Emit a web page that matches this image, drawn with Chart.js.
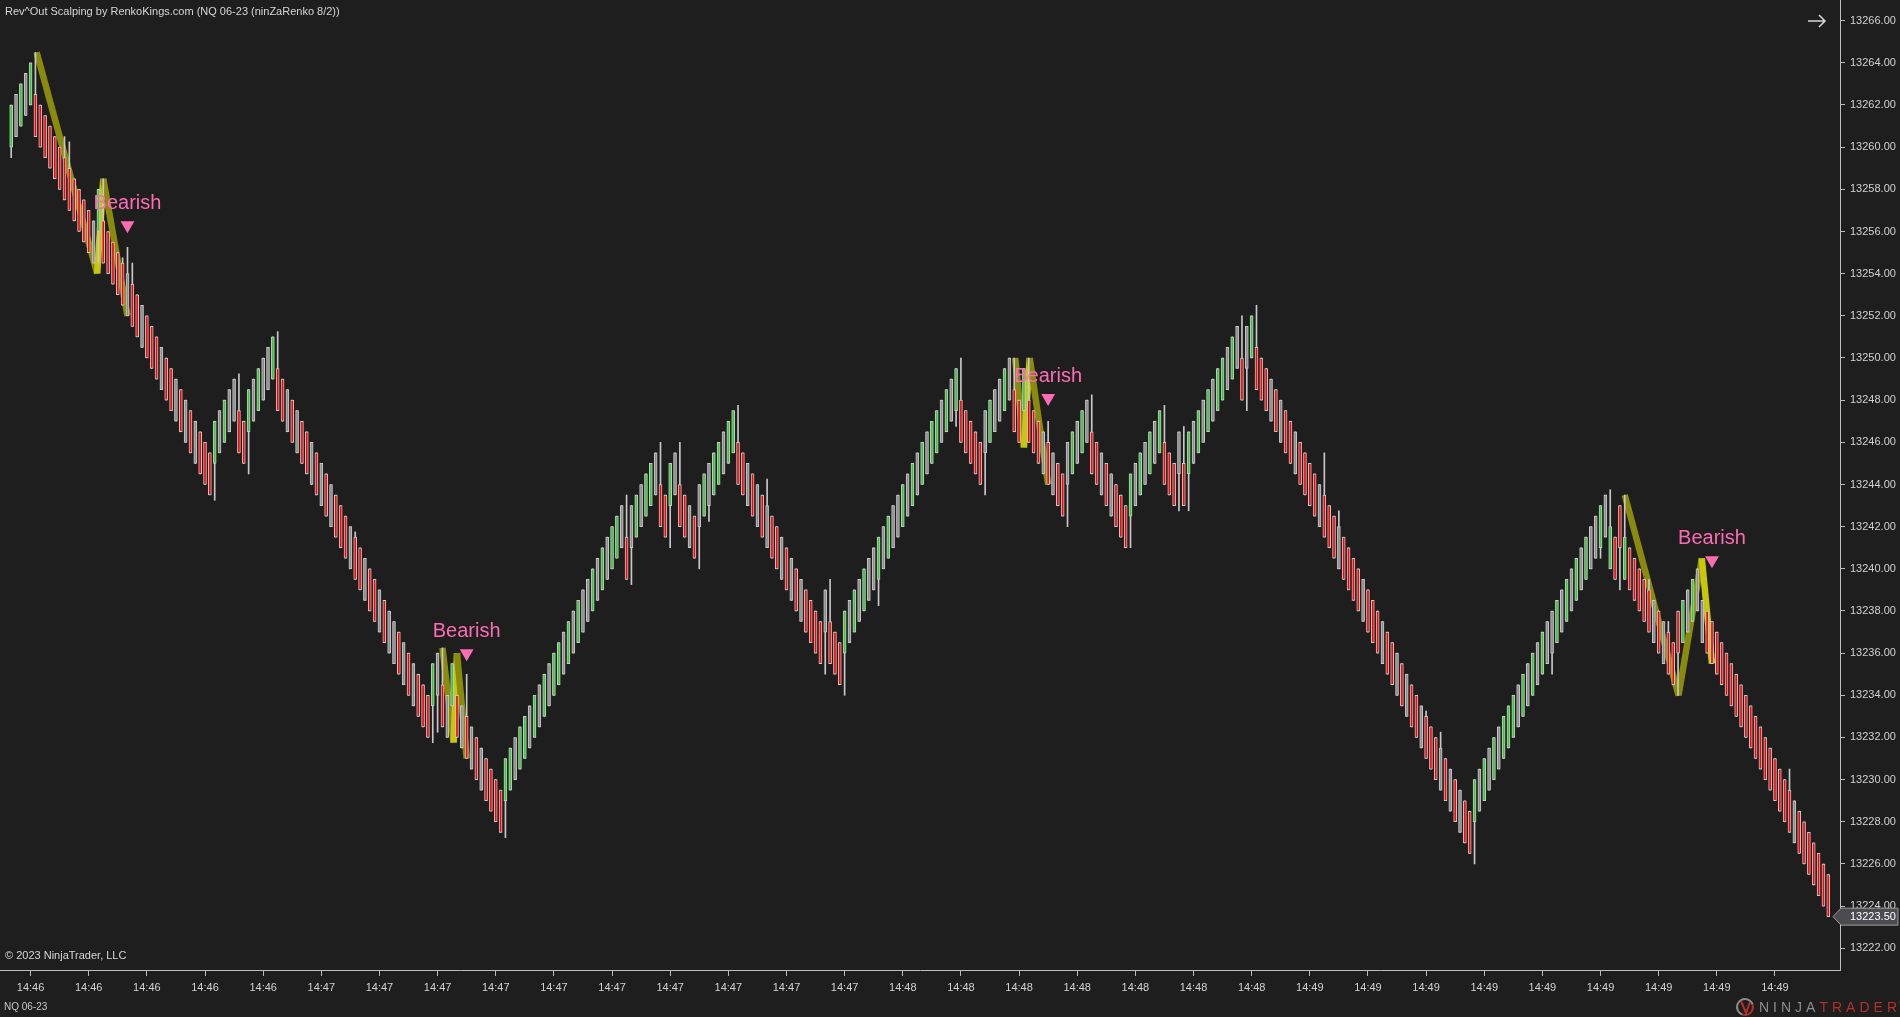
<!DOCTYPE html>
<html>
<head>
<meta charset="utf-8">
<title>Rev^Out Scalping - NQ 06-23</title>
<script src="https://cdn.jsdelivr.net/npm/chart.js@4.4.1/dist/chart.umd.min.js"></script>
<style>
    html, body { margin: 0; padding: 0; background: #1e1e1e; overflow: hidden; }
    canvas { display: block; }
</style>
</head>
<body>
<canvas id="renkoChart" width="1900" height="1017"></canvas>
<script>
// Brick closes, one per renko bar (ninZaRenko 8/2)
const closes = [
    13262, 13262.5, 13263, 13263.5, 13264,
    13260.5, 13260, 13259.5, 13259, 13258.5, 13258, 13257.5, 13257, 13256.5, 13256, 13255.5, 13255, 13254.5,
    13258,
    13254.5, 13254, 13253.5, 13253, 13252.5, 13252, 13251.5, 13251, 13250.5, 13250, 13249.5, 13249, 13248.5, 13248, 13247.5, 13247, 13246.5, 13246, 13245.5, 13245, 13244.5, 13244, 13243.5,
    13247, 13247.5, 13248, 13248.5, 13249,
    13245.5, 13245,
    13248.5, 13249, 13249.5, 13250, 13250.5, 13251,
    13247.5, 13247, 13246.5, 13246, 13245.5, 13245, 13244.5, 13244, 13243.5, 13243, 13242.5, 13242, 13241.5, 13241, 13240.5, 13240,
    13239.5, 13239, 13238.5, 13238, 13237.5, 13237, 13236.5, 13236, 13235.5, 13235, 13234.5, 13234, 13233.5, 13233, 13232.5, 13232,
    13235.5, 13236,
    13232.5, 13232,
    13235.5,
    13232, 13231.5, 13231, 13230.5, 13230, 13229.5, 13229, 13228.5, 13228, 13227.5,
    13231, 13231.5, 13232, 13232.5, 13233, 13233.5, 13234, 13234.5, 13235, 13235.5, 13236, 13236.5, 13237,
    13237.5, 13238, 13238.5, 13239, 13239.5, 13240, 13240.5, 13241, 13241.5, 13242, 13242.5, 13243,
    13239.5,
    13243, 13243.5, 13244, 13244.5, 13245, 13245.5,
    13242, 13241.5,
    13245, 13245.5,
    13242, 13241.5, 13241, 13240.5,
    13244, 13244.5, 13245, 13245.5, 13246, 13246.5, 13247, 13247.5,
    13244, 13243.5, 13243, 13242.5, 13242, 13241.5, 13241, 13240.5, 13240, 13239.5, 13239, 13238.5, 13238, 13237.5, 13237, 13236.5, 13236, 13235.5,
    13239,
    13235.5, 13235, 13234.5,
    13238, 13238.5, 13239, 13239.5, 13240, 13240.5, 13241, 13241.5, 13242, 13242.5, 13243, 13243.5,
    13244, 13244.5, 13245, 13245.5, 13246, 13246.5, 13247, 13247.5, 13248, 13248.5, 13249, 13249.5,
    13246, 13245.5, 13245, 13244.5, 13244,
    13247.5, 13248, 13248.5, 13249, 13249.5, 13250,
    13246.5, 13246,
    13249.5,
    13246, 13245.5, 13245, 13244.5, 13244, 13243.5, 13243, 13242.5,
    13246, 13246.5, 13247, 13247.5, 13248,
    13244.5, 13244, 13243.5, 13243, 13242.5, 13242, 13241.5, 13241,
    13244.5, 13245, 13245.5, 13246, 13246.5, 13247, 13247.5,
    13244, 13243.5, 13243,
    13246.5,
    13243,
    13246.5, 13247, 13247.5, 13248, 13248.5, 13249, 13249.5, 13250, 13250.5, 13251, 13251.5,
    13248,
    13251.5, 13252,
    13248.5, 13248, 13247.5, 13247, 13246.5, 13246, 13245.5, 13245, 13244.5, 13244, 13243.5, 13243, 13242.5, 13242, 13241.5,
    13241, 13240.5, 13240, 13239.5, 13239, 13238.5, 13238, 13237.5, 13237, 13236.5, 13236, 13235.5, 13235, 13234.5, 13234,
    13233.5, 13233, 13232.5, 13232, 13231.5, 13231, 13230.5, 13230, 13229.5, 13229, 13228.5, 13228, 13227.5, 13227, 13226.5,
    13230, 13230.5, 13231, 13231.5, 13232, 13232.5, 13233, 13233.5, 13234, 13234.5, 13235, 13235.5, 13236, 13236.5,
    13237, 13237.5, 13238, 13238.5, 13239, 13239.5, 13240, 13240.5, 13241, 13241.5, 13242, 13242.5, 13243, 13243.5,
    13240, 13239.5,
    13243,
    13239.5, 13239, 13238.5, 13238, 13237.5, 13237, 13236.5, 13236, 13235.5, 13235, 13234.5,
    13238, 13238.5, 13239, 13239.5, 13240,
    13236.5, 13236, 13235.5, 13235, 13234.5, 13234, 13233.5, 13233, 13232.5, 13232, 13231.5, 13231, 13230.5, 13230,
    13229.5, 13229, 13228.5, 13228, 13227.5, 13227, 13226.5, 13226, 13225.5, 13225, 13224.5, 13224, 13223.5
];

// Body colour of each brick: g = green, r = red, n = neutral grey
const fills = [
    "gngng", "rrrrrrrrrrrrn", "g", "rrrrrnrrnrrrnrrnrnrnrrr", "gngnn", "rr", "gngnng",
    "rrnrnrrnrnrnrrrnrrnrrnrnnrnrnrrr", "gn", "rn", "g", "rnrnrnrrrr", "ggnggngngnggngngnngngnggn",
    "r", "ngnggn", "rr", "gn", "rrnr", "ngnggngg", "rrnrnrnrrnrnrnrrrr", "n", "rrr",
    "gngngnngngnngngngnggngng", "rrrrr", "ngnngn", "rr", "g", "rrrnrnrr", "ngngn", "rrnrnrrr",
    "gngngng", "rrr", "n", "r", "gngngnggngn", "r", "ng",
    "rrrnrnrrnrrrrnrrrnrrrrnrrrnrrnrnrrnrrrnrnrnrr", "gngngngggngngngnngngngngnngng",
    "rr", "g", "rrrrrnrnrrr", "gngnn", "rrrrrrrrrrrrrrrrrrnrrrrrrrr"
].join("");

// Wicks that reach past the brick body (bar index -> price)
const wickHigh = {
    5: 13264.5, 11: 13260.5, 12: 13260.25, 19: 13258.5, 23: 13254.75, 24: 13255.25, 25: 13254.5,
    47: 13249.25, 55: 13251.25, 71: 13241.75, 89: 13236.25, 94: 13235, 127: 13243.5, 134: 13246,
    138: 13246, 150: 13247.75, 156: 13244.25, 169: 13239.5, 196: 13250, 207: 13250, 210: 13250,
    214: 13247, 223: 13248.25, 238: 13247.75, 242: 13246.75, 254: 13252, 257: 13252.5, 271: 13245.5,
    274: 13242.75, 292: 13233.25, 295: 13232.25, 330: 13243.75, 333: 13243.5, 338: 13239.5,
    342: 13237.5, 367: 13230.5
};
const wickLow = {
    0: 13259.5, 18: 13254.5, 42: 13243.25, 49: 13244.5, 87: 13231.75, 88: 13232.25, 102: 13227.25,
    128: 13239.25, 136: 13241, 142: 13240, 144: 13242.25, 168: 13235, 172: 13234, 179: 13238.25,
    195: 13246.75, 201: 13243.5, 218: 13242, 231: 13241, 241: 13242.75, 243: 13242.75, 255: 13247.5,
    302: 13226, 318: 13235, 328: 13240.5, 332: 13239, 344: 13234
};

// Rev^Out swing legs [bar, price]
const zigzags = [
    [[5.25, 13264.5], [17.75, 13254], [19, 13258.5], [24, 13252]],
    [[89, 13236.25], [91.3, 13231.75], [92, 13236], [94, 13231]],
    [[207.2, 13250], [209, 13245.75], [210.2, 13250], [214, 13244]],
    [[333, 13243.5], [344.1, 13234], [348.9, 13240.5], [351, 13235.5]]
];
const brightLeg = [1, 1, 1, 2];

// Bearish signals [bar, price]
const signals = [[24, 13256.3], [94, 13236], [214, 13248.1], [351, 13240.4]];
const signalText = "Bearish";

const timeLabels = [
    "14:46", "14:46", "14:46", "14:46", "14:46",
    "14:47", "14:47", "14:47", "14:47", "14:47", "14:47", "14:47", "14:47", "14:47", "14:47",
    "14:48", "14:48", "14:48", "14:48", "14:48", "14:48", "14:48",
    "14:49", "14:49", "14:49", "14:49", "14:49", "14:49", "14:49", "14:49", "14:49"
];
const priceTicks = [
    13222, 13224, 13226, 13228, 13230, 13232, 13234, 13236, 13238, 13240, 13242, 13244,
    13246, 13248, 13250, 13252, 13254, 13256, 13258, 13260, 13262, 13264, 13266
];

const brick = 2;
const firstTickBar = 4;
const barsPerTick = 12;

const axisColor = "#bdbdbd";
const labelColor = "#d2d2d2";
const outline = "#c8c8c8";
const fillColor = { g: "#32cd32", r: "#ff0000", n: "#8c8c8c" };
const olive = "#8a8a0c";
const bright = "#c6c60a";
const pink = "#ff6cb5";

// Opens follow the brick rule: body is one brick against the direction of travel
const opens = closes.map((c, i) => {
    const up = i === 0 ? fills[0] === "g" : c > closes[i - 1];
    return up ? c - brick : c + brick;
});
const bodies = closes.map((c, i) => ({ x: i, y: [opens[i], c] }));
const wicks = closes.map((c, i) => ({
    x: i,
    y: [
        Math.min(opens[i], c, wickLow[i] ?? Infinity),
        Math.max(opens[i], c, wickHigh[i] ?? -Infinity),
    ],
}));

const zigzagSets = zigzags.map((pts, k) => ({
    type: "line",
    data: pts.map(([x, y]) => ({ x, y })),
    borderColor: olive,
    borderWidth: 6.5,
    borderCapStyle: "butt",
    borderJoinStyle: "bevel",
    pointRadius: 0,
    tension: 0,
    fill: false,
    order: 4,
    segment: {
        borderColor: (ctx) => (ctx.p0DataIndex === brightLeg[k] ? bright : olive),
    },
}));

const decorations = {
    id: "decorations",
    beforeDraw(chart) {
        const c = chart.ctx;
        c.save();
        c.fillStyle = "#1e1e1e";
        c.fillRect(0, 0, chart.width, chart.height);
        c.restore();
    },
    afterDatasetsDraw(chart) {
        const c = chart.ctx;
        const meta = chart.getDatasetMeta(chart.data.datasets.length - 1);
        c.save();
        c.font = "20px Arial";
        c.fillStyle = pink;
        c.textAlign = "center";
        c.textBaseline = "middle";
        meta.data.forEach((pt) => c.fillText(signalText, pt.x, pt.y - 22));
        c.restore();
    },
    afterDraw(chart) {
        const c = chart.ctx;
        const area = chart.chartArea;
        c.save();
        c.textBaseline = "middle";
        c.textAlign = "left";

        c.font = "11px Arial";
        c.fillStyle = "#d6d6d6";
        c.fillText("Rev^Out Scalping by RenkoKings.com (NQ 06-23 (ninZaRenko 8/2))", 5, 11.5);
        c.fillText("\u00A9 2023 NinjaTrader, LLC", 5, 956);
        c.font = "10px Arial";
        c.fillStyle = "#c8c8c8";
        c.fillText("NQ 06-23", 4, 1007);

        // arrow, top right
        c.strokeStyle = "#d8d8d8";
        c.lineWidth = 1.5;
        c.beginPath();
        c.moveTo(1808, 21);
        c.lineTo(1825, 21);
        c.moveTo(1819, 15);
        c.lineTo(1825, 21);
        c.lineTo(1819, 27);
        c.stroke();

        // last price marker
        const last = closes[closes.length - 1];
        const y = chart.scales.y.getPixelForValue(last);
        const x0 = area.right - 7;
        const x1 = chart.width - 2;
        c.beginPath();
        c.moveTo(x0, y);
        c.lineTo(x0 + 8, y - 8.5);
        c.lineTo(x1, y - 8.5);
        c.lineTo(x1, y + 8.5);
        c.lineTo(x0 + 8, y + 8.5);
        c.closePath();
        c.fillStyle = "#4b4b50";
        c.fill();
        c.lineWidth = 1;
        c.strokeStyle = "#9a9a9a";
        c.stroke();
        c.font = "11px Arial";
        c.fillStyle = "#ffffff";
        c.fillText(last.toFixed(2), area.right + 10, y + 0.5);

        // NinjaTrader logo
        c.lineWidth = 2;
        c.strokeStyle = "#8d8d8d";
        c.beginPath();
        c.arc(1745, 1007, 8, 0.6 * Math.PI, 1.9 * Math.PI);
        c.stroke();
        c.strokeStyle = "#b3302b";
        c.beginPath();
        c.arc(1745, 1007, 8, 1.9 * Math.PI, 2.6 * Math.PI);
        c.moveTo(1741, 1001);
        c.lineTo(1746, 1013);
        c.lineTo(1750, 1002);
        c.stroke();
        c.font = "14px Arial";
        c.letterSpacing = "4px";
        let lx = 1759;
        c.fillStyle = "#8d8d8d";
        c.fillText("NINJA", lx, 1008);
        lx += c.measureText("NINJA").width;
        c.fillStyle = "#b3302b";
        c.fillText("TRADER", lx, 1008);
        lx += c.measureText("TRADER").width;
        c.letterSpacing = "0px";
        c.font = "8px Arial";
        c.fillText("\u00AE", lx - 2, 1003);
        c.restore();
    },
};

const ctx = document.getElementById("renkoChart").getContext("2d");
const renkoChart = new Chart(ctx, {
    type: "bar",
    data: {
        datasets: [
            ...zigzagSets,
            {
                label: "Wicks",
                data: wicks,
                backgroundColor: outline,
                borderWidth: 0,
                barThickness: 1,
                grouped: false,
                order: 3,
            },
            {
                label: "Bricks",
                data: bodies,
                backgroundColor: (c) => fillColor[fills[c.dataIndex]],
                borderColor: outline,
                borderWidth: 1,
                borderSkipped: false,
                barThickness: 3,
                grouped: false,
                order: 2,
            },
            {
                type: "line",
                label: "Bearish",
                data: signals.map(([x, y]) => ({ x, y })),
                showLine: false,
                pointStyle: "triangle",
                rotation: 180,
                pointRadius: 8,
                pointBackgroundColor: pink,
                pointBorderColor: pink,
                pointBorderWidth: 0,
                order: 1,
            },
        ],
    },
    options: {
        responsive: false,
        animation: false,
        devicePixelRatio: 1,
        events: [],
        layout: { autoPadding: false, padding: 0 },
        plugins: {
            legend: { display: false },
            tooltip: { enabled: false },
        },
        scales: {
            x: {
                type: "linear",
                bounds: "data",
                offset: false,
                min: -2.31,
                max: 377.42,
                afterBuildTicks: (s) => {
                    s.ticks = timeLabels.map((t, k) => ({ value: firstTickBar + k * barsPerTick }));
                },
                afterFit: (s) => {
                    s.height = 47;
                    s.paddingLeft = 0;
                    s.paddingRight = 0;
                },
                grid: {
                    display: true,
                    drawOnChartArea: false,
                    offset: false,
                    tickLength: 6,
                    color: axisColor,
                    tickColor: axisColor,
                },
                border: { display: true, color: axisColor, width: 1 },
                ticks: {
                    autoSkip: false,
                    maxRotation: 0,
                    padding: 5,
                    color: labelColor,
                    font: { family: "Arial", size: 11 },
                    callback: (v, k) => timeLabels[k],
                },
            },
            y: {
                type: "linear",
                position: "right",
                bounds: "data",
                min: 13220.97,
                max: 13266.98,
                afterBuildTicks: (s) => {
                    s.ticks = priceTicks.map((v) => ({ value: v }));
                },
                afterFit: (s) => {
                    s.width = 60;
                    s.paddingTop = 0;
                    s.paddingBottom = 0;
                },
                grid: {
                    display: true,
                    drawOnChartArea: false,
                    tickLength: 5,
                    color: axisColor,
                    tickColor: axisColor,
                },
                border: { display: true, color: axisColor, width: 1 },
                ticks: {
                    padding: 5,
                    color: labelColor,
                    font: { family: "Arial", size: 11 },
                    callback: (v) => Number(v).toFixed(2),
                },
            },
        },
    },
    plugins: [decorations],
});
</script>
</body>
</html>
